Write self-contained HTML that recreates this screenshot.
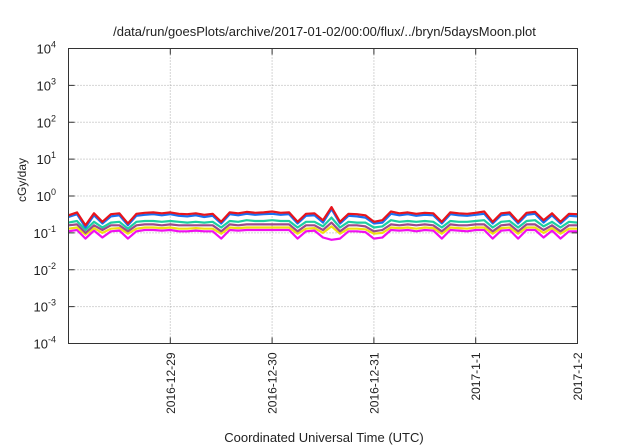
<!DOCTYPE html>
<html><head><meta charset="utf-8"><style>
html,body{margin:0;padding:0;background:#fff;}
svg{display:block;font-family:"Liberation Sans",sans-serif;}
</style></head><body>
<svg id="chart" width="640" height="448" viewBox="0 0 640 448">
<text x="324.5" y="36" font-size="13" text-anchor="middle" fill="#222">/data/run/goesPlots/archive/2017-01-02/00:00/flux/../bryn/5daysMoon.plot</text>
<g id="grid"></g>
<g id="series"></g>
<rect x="68.5" y="48.5" width="509" height="295" fill="none" stroke="#333" stroke-width="1"/>
<g id="yticks"></g>
<g id="xticks"></g>
<text transform="translate(26,180) rotate(-90)" font-size="12" text-anchor="middle" fill="#222">cGy/day</text>
<text x="324" y="442" font-size="13" text-anchor="middle" fill="#222">Coordinated Universal Time (UTC)</text>
</svg>
<script>
const hours = [0,2,4,6,8,10,12,14,16,18,20,22,24,26,28,30,32,34,36,38,40,42,44,46,48,50,52,54,56,58,60,62,64,66,68,70,72,74,76,78,80,82,84,86,88,90,92,94,96,98,100,102,104,106,108,110,112,114,116,118,120];
const redVals = [0.30,0.36,0.16,0.34,0.20,0.32,0.34,0.18,0.33,0.35,0.36,0.34,0.36,0.33,0.32,0.34,0.31,0.33,0.20,0.36,0.34,0.37,0.35,0.36,0.38,0.35,0.36,0.20,0.33,0.34,0.22,0.50,0.20,0.33,0.32,0.30,0.20,0.22,0.38,0.34,0.36,0.33,0.35,0.34,0.20,0.36,0.34,0.33,0.35,0.38,0.20,0.34,0.36,0.20,0.35,0.37,0.22,0.34,0.20,0.33,0.32];
const blueVals = [0.27,0.32,0.14,0.30,0.18,0.28,0.30,0.16,0.29,0.31,0.32,0.30,0.32,0.29,0.28,0.30,0.27,0.29,0.18,0.32,0.30,0.33,0.31,0.32,0.33,0.31,0.32,0.18,0.29,0.30,0.19,0.44,0.18,0.29,0.28,0.26,0.18,0.19,0.33,0.30,0.32,0.29,0.31,0.30,0.18,0.32,0.30,0.29,0.31,0.33,0.18,0.30,0.32,0.18,0.31,0.33,0.19,0.30,0.18,0.29,0.28];
const greenVals = [0.19,0.21,0.12,0.20,0.14,0.19,0.20,0.13,0.20,0.21,0.21,0.20,0.21,0.20,0.19,0.20,0.19,0.20,0.14,0.21,0.20,0.22,0.21,0.21,0.22,0.21,0.21,0.14,0.20,0.20,0.15,0.26,0.14,0.20,0.19,0.19,0.14,0.15,0.22,0.20,0.21,0.20,0.21,0.20,0.14,0.21,0.20,0.20,0.21,0.22,0.14,0.20,0.21,0.14,0.21,0.22,0.15,0.20,0.14,0.20,0.19];
const purpleVals = [0.16,0.17,0.10,0.16,0.12,0.16,0.16,0.11,0.16,0.17,0.17,0.16,0.17,0.16,0.16,0.16,0.16,0.16,0.11,0.17,0.16,0.17,0.17,0.17,0.17,0.17,0.17,0.11,0.16,0.16,0.12,0.19,0.11,0.16,0.16,0.15,0.11,0.12,0.17,0.16,0.17,0.16,0.17,0.16,0.11,0.17,0.16,0.16,0.17,0.17,0.11,0.16,0.17,0.11,0.17,0.17,0.12,0.16,0.11,0.16,0.16];
const yellowVals = [0.13,0.14,0.09,0.135,0.10,0.13,0.135,0.095,0.13,0.14,0.14,0.135,0.14,0.13,0.13,0.135,0.13,0.13,0.095,0.14,0.135,0.14,0.14,0.14,0.14,0.14,0.14,0.095,0.13,0.135,0.10,0.15,0.095,0.13,0.13,0.125,0.095,0.10,0.14,0.135,0.14,0.13,0.14,0.135,0.095,0.14,0.135,0.13,0.14,0.14,0.095,0.135,0.14,0.095,0.14,0.14,0.10,0.135,0.095,0.13,0.13];
const magentaVals = [0.11,0.12,0.07,0.115,0.075,0.11,0.115,0.07,0.11,0.12,0.12,0.115,0.12,0.11,0.11,0.115,0.11,0.11,0.07,0.12,0.115,0.12,0.12,0.12,0.12,0.12,0.12,0.07,0.11,0.115,0.075,0.065,0.07,0.11,0.11,0.105,0.07,0.075,0.12,0.115,0.12,0.11,0.12,0.115,0.07,0.12,0.115,0.11,0.12,0.12,0.07,0.115,0.12,0.07,0.12,0.12,0.075,0.115,0.07,0.11,0.11];
const seriesColors = ["#e8141c","#1a6ff0","#1ccfa0","#9b4a8c","#f0e010","#f010f0"];
const yTickExps = [-4,-3,-2,-1,0,1,2,3,4];
const xTickLabels = ["2016-12-29","2016-12-30","2016-12-31","2017-1-1","2017-1-2"];
const xTickHours = [24,48,72,96,120];

const X0=68.5, X1=577.5, Y0=343.5, Y1=48.5, H_MAX=120, E_MIN=-4, E_MAX=4;
function xScale(h){return X0+(h/H_MAX)*(X1-X0);}
function yScale(v){return Y0-(Math.log10(v)-E_MIN)/(E_MAX-E_MIN)*(Y0-Y1);}
const NS="http://www.w3.org/2000/svg";
function mk(tag,attrs,parent){const e=document.createElementNS(NS,tag);for(const k in attrs)e.setAttribute(k,attrs[k]);parent.appendChild(e);return e;}
const grid=document.getElementById('grid'), yt=document.getElementById('yticks'), xt=document.getElementById('xticks'), sg=document.getElementById('series');

yTickExps.forEach(function(ex){
  const y=yScale(Math.pow(10,ex));
  if(ex>E_MIN&&ex<E_MAX){
    const g=mk('line',{x1:X0,x2:X1,y1:y,y2:y,stroke:'#aaa','stroke-width':1,'stroke-dasharray':'1,2'},grid);
    
    
  }
  const t1=mk('line',{x1:X0,x2:X0+6,y1:y,y2:y,stroke:'#333'},yt);
  
  
  const t2=mk('line',{x1:X1-6,x2:X1,y1:y,y2:y,stroke:'#333'},yt);
  
  
  const tx=mk('text',{x:56,y:y+5,'font-size':13,'text-anchor':'end',fill:'#222'},yt);
  
  
  tx.textContent='10';
  const sup=mk('tspan',{dy:-6,'font-size':9},tx);
  sup.textContent=String(ex);
});

xTickHours.forEach(function(h,i){
  const x=xScale(h);
  if(h<H_MAX){
    const g=mk('line',{x1:x,x2:x,y1:Y1,y2:Y0,stroke:'#aaa','stroke-width':1,'stroke-dasharray':'1,2'},grid);
    
    
  }
  const t1=mk('line',{x1:x,x2:x,y1:Y0,y2:Y0-6,stroke:'#333'},xt);
  
  
  const t2=mk('line',{x1:x,x2:x,y1:Y1,y2:Y1+6,stroke:'#333'},xt);
  
  
  const tx=mk('text',{transform:'translate('+(x+4.5)+','+(Y0+9)+') rotate(-90)','font-size':12,'text-anchor':'end',fill:'#222'},xt);
  
  
  tx.textContent=xTickLabels[i];
});

const allSeries=[redVals,blueVals,greenVals,purpleVals,yellowVals,magentaVals];
const seriesNames=['series-red','series-blue','series-green','series-purple','series-yellow','series-magenta'];
for(let s=allSeries.length-1;s>=0;s--){
  const vals=allSeries[s];
  const d=vals.map(function(v,i){return (i?'L':'M')+xScale(hours[i]).toFixed(1)+','+yScale(v).toFixed(1);}).join('');
  const p=mk('path',{d:d,fill:'none',stroke:seriesColors[s],'stroke-width':2.2,'stroke-linejoin':'round'},sg);
  
  
}
</script>
</body></html>
